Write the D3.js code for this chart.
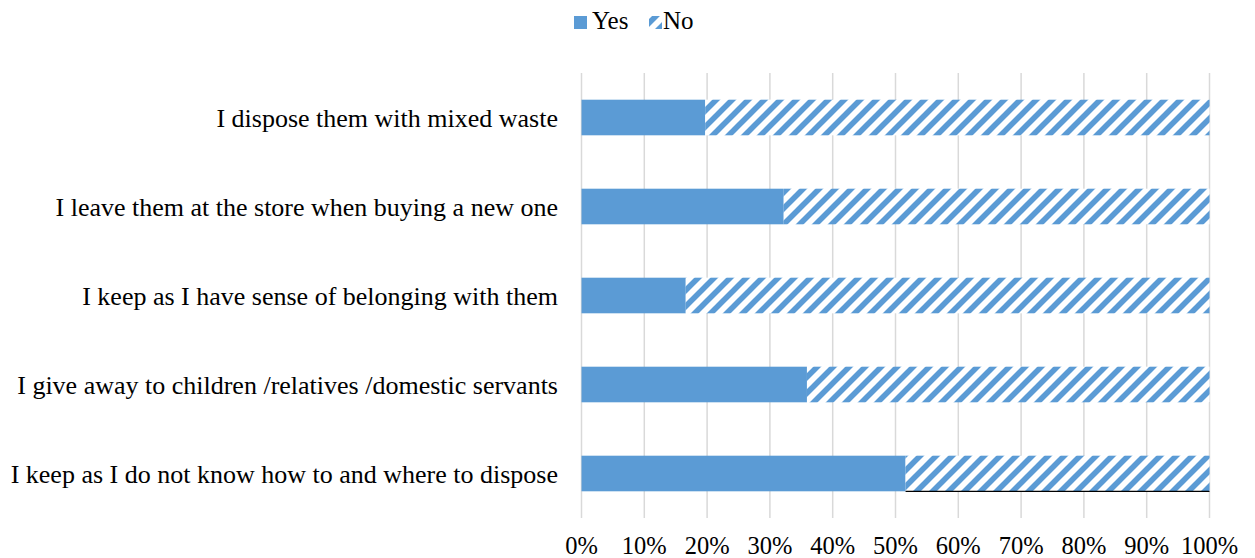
<!DOCTYPE html>
<html>
<head>
<meta charset="utf-8">
<script src="https://cdn.jsdelivr.net/npm/d3@7/dist/d3.min.js"></script>
<style>
  html, body { margin: 0; padding: 0; background: #ffffff; }
  svg { display: block; }
</style>
</head>
<body>
<svg id="chart" width="1255" height="558"></svg>
<script>
// Disposal behaviour, share of respondents answering Yes / No
const categories = [
  "I dispose them with mixed waste",
  "I leave them at the store when buying a new one",
  "I keep as I have sense of belonging with them",
  "I give away to children /relatives /domestic servants",
  "I keep as I do not know how to and where to dispose"
];
const yesValues = [19.7, 32.2, 16.6, 35.9, 51.6];
const noValues  = [80.3, 67.8, 83.4, 64.1, 48.4];
const seriesNames = ["Yes", "No"];
const tickValues = [0, 10, 20, 30, 40, 50, 60, 70, 80, 90, 100];

const BLUE = "#5B9BD5";
const FONT = "Liberation Serif";
const svg = d3.select("#chart");

// hatch used for the "No" series
const defs = svg.append("defs");
const pat = defs.append("pattern")
  .attr("id", "hatch")
  .attr("patternUnits", "userSpaceOnUse")
  .attr("width", 16).attr("height", 16);
pat.append("rect").attr("width", 16).attr("height", 16).attr("fill", "#fff");
pat.append("path")
  .attr("d", "M-4,4 L4,-4 M0,16 L16,0 M12,20 L20,12")
  .attr("stroke", BLUE).attr("stroke-width", 5.6);

const x = d3.scaleLinear().domain([0, 100]).range([581.5, 1209.5]);
const y = d3.scaleBand().domain(categories).range([73, 518])
  .paddingInner(0.6).paddingOuter(0.3);

// vertical gridlines
svg.append("g").selectAll("line").data(tickValues).join("line")
  .attr("x1", d => x(d)).attr("x2", d => x(d))
  .attr("y1", 73).attr("y2", 518)
  .attr("stroke", "#d9d9d9").attr("stroke-width", 1.5);

const rows = categories.map((c, i) => ({ c, yes: yesValues[i], no: noValues[i] }));

// Yes segments
svg.append("g").selectAll("rect").data(rows).join("rect")
  .attr("x", x(0))
  .attr("y", d => y(d.c))
  .attr("width", d => x(d.yes) - x(0))
  .attr("height", y.bandwidth())
  .attr("fill", BLUE);

// No segments, stacked after Yes
svg.append("g").selectAll("rect").data(rows).join("rect")
  .attr("x", d => x(d.yes))
  .attr("y", d => y(d.c))
  .attr("width", d => x(d.yes + d.no) - x(d.yes))
  .attr("height", y.bandwidth())
  .attr("fill", "url(#hatch)");

// dark bottom edge on the last No segment
const last = rows[rows.length - 1];
svg.append("line")
  .attr("x1", x(last.yes)).attr("x2", x(last.yes + last.no))
  .attr("y1", y(last.c) + y.bandwidth()).attr("y2", y(last.c) + y.bandwidth())
  .attr("stroke", "#000").attr("stroke-width", 1.2);

// category labels
svg.append("g").selectAll("text").data(categories).join("text")
  .attr("x", 558)
  .attr("y", d => y(d) + y.bandwidth() / 2 + 9)
  .attr("text-anchor", "end")
  .attr("font-family", FONT)
  .attr("font-size", 26)
  .attr("fill", "#000")
  .text(d => d);

// x axis tick labels
svg.append("g").selectAll("text").data(tickValues).join("text")
  .attr("x", d => x(d))
  .attr("y", 554)
  .attr("text-anchor", "middle")
  .attr("font-family", FONT)
  .attr("font-size", 24.5)
  .attr("fill", "#000")
  .text(d => d + "%");

// legend
const legend = svg.append("g");
const lg = [
  { name: seriesNames[0], fill: BLUE, sx: 574, tx: 592 },
  { name: seriesNames[1], fill: "url(#hatch)", sx: 649, tx: 663 }
];
legend.selectAll("rect").data(lg).join("rect")
  .attr("x", d => d.sx).attr("y", 16)
  .attr("width", 13).attr("height", 13)
  .attr("fill", d => d.fill);
legend.selectAll("text").data(lg).join("text")
  .attr("x", d => d.tx).attr("y", 29)
  .attr("font-family", FONT)
  .attr("font-size", 25)
  .attr("fill", "#000")
  .text(d => d.name);
</script>
</body>
</html>
